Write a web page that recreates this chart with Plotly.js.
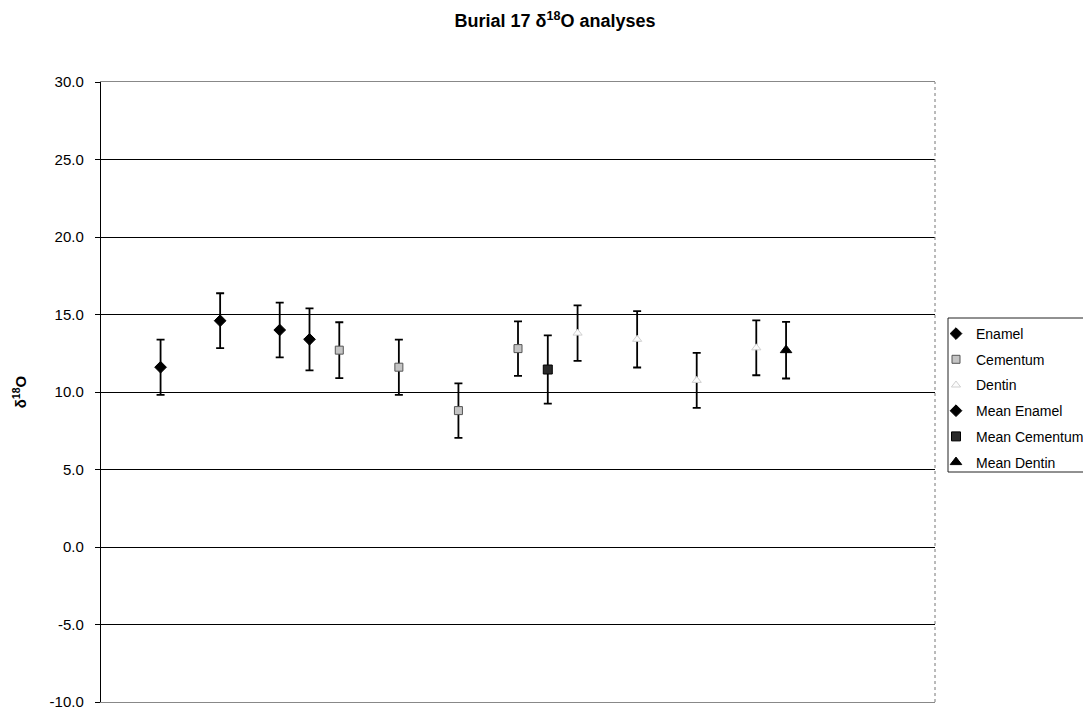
<!DOCTYPE html>
<html>
<head>
<meta charset="utf-8">
<script src="https://cdn.plot.ly/plotly-3.0.1.min.js"></script>
<style>html,body{margin:0;padding:0;background:#fff;}#chart{width:1083px;height:711px;}</style>
</head>
<body>
<div id="chart"></div>
<script>
// Sample positions along the (hidden) x axis
const enamelX = [2, 4, 6];
const enamelY = [11.6, 14.6, 14.0];
const enamelErr = [1.78, 1.77, 1.77];

const cementumX = [8, 10, 12, 14];
const cementumY = [12.7, 11.6, 8.8, 12.8];
const cementumErr = [1.8, 1.78, 1.76, 1.76];

const dentinX = [16, 18, 20, 22];
const dentinY = [13.8, 13.4, 10.75, 12.85];
const dentinErr = [1.79, 1.82, 1.77, 1.77];

const meanEnamelX = [7];
const meanEnamelY = [13.4];
const meanEnamelErr = [2.0];

const meanCementumX = [15];
const meanCementumY = [11.45];
const meanCementumErr = [2.2];

const meanDentinX = [23];
const meanDentinY = [12.7];
const meanDentinErr = [1.83];

const yTicks = [-10, -5, 0, 5, 10, 15, 20, 25, 30];
const yTickText = ["-10.0", "-5.0", "0.0", "5.0", "10.0", "15.0", "20.0", "25.0", "30.0"];

const FONT = "Liberation Sans, Arial, sans-serif";

function eb(arr) {
  return {type: "data", array: arr, visible: true, color: "#000", thickness: 1.8, width: 4};
}

const traces = [
  {name: "Enamel", x: enamelX, y: enamelY, error_y: eb(enamelErr),
   marker: {symbol: "diamond", size: 9, color: "#000", line: {color: "#000", width: 1}}},
  {name: "Cementum", x: cementumX, y: cementumY, error_y: eb(cementumErr),
   marker: {symbol: "square", size: 8, color: "#c4c4c4", line: {color: "#555", width: 1}}},
  {name: "Dentin", x: dentinX, y: dentinY, error_y: eb(dentinErr),
   marker: {symbol: "triangle-up", size: 8, color: "#fcfcfc", line: {color: "#d0d0d0", width: 1}}},
  {name: "Mean Enamel", x: meanEnamelX, y: meanEnamelY, error_y: eb(meanEnamelErr),
   marker: {symbol: "diamond", size: 9, color: "#000", line: {color: "#000", width: 1}}},
  {name: "Mean Cementum", x: meanCementumX, y: meanCementumY, error_y: eb(meanCementumErr),
   marker: {symbol: "square", size: 9, color: "#2a2a2a", line: {color: "#000", width: 1}}},
  {name: "Mean Dentin", x: meanDentinX, y: meanDentinY, error_y: eb(meanDentinErr),
   marker: {symbol: "triangle-up", size: 10, color: "#000", line: {color: "#000", width: 1}}}
].map((t, i) => Object.assign({type: "scatter", mode: "markers", legendgroup: "g" + i, cliponaxis: false}, t));

const plotL = 101, plotR = 935, plotT = 82, plotB = 702;
const pw = plotR - plotL, ph = plotB - plotT;

const layout = {
  width: 1083, height: 711,
  paper_bgcolor: "#fff", plot_bgcolor: "#fff",
  margin: {l: plotL, r: 1083 - plotR, t: plotT, b: 711 - plotB, autoexpand: false},
  font: {family: FONT, color: "#000", size: 15},
  title: {
    text: "<b>Burial 17 δ<sup>18</sup>O analyses</b>",
    font: {family: FONT, size: 18, color: "#000"},
    xref: "container", x: 555 / 1083, xanchor: "center",
    yref: "container", y: 1 - 21 / 711, yanchor: "middle"
  },
  xaxis: {
    range: [0, 28], showticklabels: false, ticks: "", showgrid: false, zeroline: false,
    showline: true, linecolor: "#888", linewidth: 1, mirror: true, fixedrange: true
  },
  yaxis: {
    range: [-10, 30], tickvals: yTicks, ticktext: yTickText,
    ticks: "outside", ticklen: 5, tickcolor: "#000", tickwidth: 1,
    ticklabelstandoff: 8, ticklabeloverflow: "allow",
    tickfont: {family: FONT, size: 15, color: "#000"},
    showgrid: true, gridcolor: "#000", gridwidth: 1, zeroline: false,
    showline: true, linecolor: "#000", linewidth: 1.2,
    automargin: false,
    title: {text: "<b>δ<sup>18</sup>O</b>", font: {family: FONT, size: 15, color: "#000"}, standoff: 19}
  },
  shapes: [
    {type: "line", xref: "paper", yref: "paper", x0: 1, x1: 1, y0: 0, y1: 1,
     line: {color: "#777", width: 1, dash: "dot"}},
    {type: "rect", xref: "paper", yref: "paper",
     x0: (948 - plotL) / pw, x1: (1095 - plotL) / pw,
     y0: (plotB - 472) / ph, y1: (plotB - 318) / ph,
     line: {color: "#222", width: 1}, fillcolor: "rgba(0,0,0,0)", layer: "above"}
  ],
  showlegend: true,
  legend: {
    x: (936 - plotL) / pw, xanchor: "left",
    y: (plotB - 318) / ph, yanchor: "top",
    bgcolor: "rgba(0,0,0,0)", borderwidth: 0,
    font: {family: FONT, size: 14, color: "#000"},
    tracegroupgap: 4.5, itemwidth: 30
  }
};

Plotly.newPlot("chart", traces, layout, {staticPlot: true, displayModeBar: false});
</script>
</body>
</html>
